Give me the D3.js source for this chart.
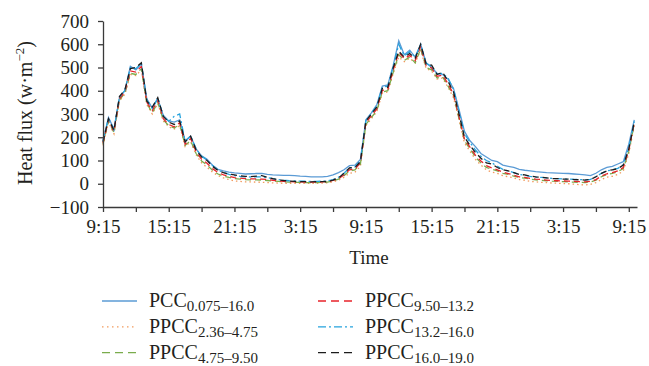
<!DOCTYPE html>
<html>
<head>
<meta charset="utf-8">
<script src="https://cdn.jsdelivr.net/npm/d3@7"></script>
<style>
  body { margin: 0; background: #fff; }
  svg { display: block; }
  text { font-family: "Liberation Serif", "DejaVu Serif", serif; fill: #231f20; }
</style>
</head>
<body>
<svg id="chart" width="649" height="366"></svg>
<script>
// half-hourly samples starting at 9:15
var stepHours = 0.5;

var xTickLabels = ["9:15", "15:15", "21:15", "3:15", "9:15", "15:15", "21:15", "3:15", "9:15"];
var yTicks = [-100, 0, 100, 200, 300, 400, 500, 600, 700];

var pcc = [185, 285, 235, 370, 400, 505, 490, 515, 365, 325,
  365, 295, 270, 265, 275, 185, 205, 150, 120, 105,
  80, 62, 55, 50, 47, 45, 42, 43, 44, 45,
  40, 38, 37, 36, 36, 35, 33, 32, 30, 30,
  30, 32, 38, 48, 60, 78, 80, 105, 275, 305,
  340, 420, 425, 510, 615, 555, 575, 545, 600, 520,
  500, 475, 470, 450, 410, 320, 225, 185, 160, 130,
  115, 100, 95, 80, 75, 70, 62, 58, 55, 52,
  50, 48, 47, 46, 45, 44, 42, 40, 38, 35,
  45, 60, 70, 75, 85, 95, 170, 275];

var ppcc236 = [165, 265, 215, 355, 385, 470, 465, 490, 340, 300,
  345, 270, 245, 235, 250, 160, 180, 125, 90, 70,
  50, 35, 25, 18, 12, 10, 8, 8, 7, 6,
  5, 4, 3, 2, 2, 2, 2, 2, 2, 2,
  3, 4, 8, 15, 28, 45, 50, 75, 250, 280,
  310, 390, 395, 475, 545, 525, 540, 520, 575, 495,
  485, 450, 455, 415, 370, 275, 175, 140, 105, 80,
  60, 50, 45, 35, 30, 25, 18, 15, 10, 8,
  6, 5, 3, 2, 1, 0, -2, -4, -5, -3,
  5, 18, 28, 32, 40, 55, 130, 250];

var ppcc475 = [170, 270, 220, 360, 390, 475, 470, 495, 345, 305,
  350, 275, 250, 240, 255, 165, 185, 130, 98, 80,
  58, 42, 33, 27, 22, 20, 18, 17, 17, 16,
  14, 12, 10, 8, 7, 6, 6, 5, 5, 5,
  6, 7, 12, 20, 35, 55, 60, 85, 255, 285,
  315, 395, 400, 480, 555, 530, 545, 520, 580, 500,
  490, 455, 460, 420, 380, 280, 185, 150, 115, 90,
  70, 62, 55, 45, 40, 33, 27, 24, 20, 17,
  15, 13, 11, 10, 9, 8, 7, 6, 5, 8,
  15, 30, 40, 45, 52, 65, 140, 255];

var ppcc950 = [175, 275, 225, 365, 395, 485, 480, 505, 350, 315,
  360, 280, 255, 245, 262, 170, 195, 138, 105, 88,
  65, 48, 38, 32, 26, 24, 22, 21, 21, 20,
  18, 15, 12, 10, 9, 8, 8, 7, 7, 7,
  8, 9, 14, 22, 38, 60, 63, 90, 262, 292,
  322, 402, 405, 490, 565, 538, 552, 530, 590, 508,
  498, 462, 468, 430, 385, 290, 192, 158, 122, 98,
  78, 68, 60, 50, 44, 37, 30, 27, 23, 20,
  18, 16, 14, 13, 12, 11, 10, 9, 8, 10,
  18, 33, 43, 48, 55, 70, 145, 262];

var ppcc132 = [185, 282, 232, 372, 402, 500, 495, 518, 360, 325,
  368, 292, 268, 290, 300, 182, 205, 150, 118, 102,
  78, 58, 48, 40, 35, 32, 30, 29, 30, 30,
  26, 22, 18, 15, 13, 12, 11, 11, 10, 10,
  11, 12, 18, 28, 45, 68, 72, 98, 272, 302,
  335, 415, 420, 505, 600, 550, 568, 545, 598, 518,
  505, 472, 475, 455, 405, 310, 215, 178, 145, 118,
  100, 90, 75, 62, 55, 48, 40, 36, 32, 29,
  27, 25, 23, 22, 21, 20, 19, 18, 17, 19,
  30, 45, 55, 60, 66, 82, 155, 268];

var ppcc160 = [180, 280, 230, 375, 405, 495, 500, 520, 355, 330,
  370, 290, 265, 255, 270, 180, 205, 145, 115, 100,
  75, 57, 48, 42, 38, 34, 32, 31, 33, 35,
  28, 22, 17, 14, 12, 10, 9, 9, 8, 9,
  9, 10, 16, 25, 45, 68, 70, 95, 270, 300,
  330, 410, 415, 500, 570, 545, 560, 540, 600, 515,
  510, 470, 480, 440, 395, 300, 200, 165, 135, 110,
  90, 85, 70, 60, 55, 48, 40, 38, 33, 30,
  28, 25, 22, 22, 20, 20, 18, 17, 16, 18,
  30, 45, 55, 60, 65, 80, 150, 265];

var seriesNames = ["PCC", "PPCC", "PPCC", "PPCC", "PPCC", "PPCC"];
var seriesSubs = ["0.075\u201316.0", "2.36\u20134.75", "4.75\u20139.50", "9.50\u201313.2", "13.2\u201316.0", "16.0\u201319.0"];
var seriesValues = [pcc, ppcc236, ppcc475, ppcc950, ppcc132, ppcc160];
var seriesColors = ["#5b9bd5", "#f29a5c", "#7aac4c", "#e8232a", "#26a3dd", "#1c1c1c"];
var seriesDash = [null, "1.5,3", "6,4", "6,4", "7,3,2,3", "6,4"];

var svg = d3.select("#chart");

var x = d3.scaleLinear().domain([0, 48.75]).range([103, 637]);
var y = d3.scaleLinear().domain([-100, 700]).range([207, 21]);

// series lines
var line = d3.line()
  .x(function (d, i) { return x(i * stepHours); })
  .y(function (d) { return y(d); });

svg.append("g").selectAll("path")
  .data(seriesValues)
  .enter().append("path")
  .attr("d", line)
  .attr("fill", "none")
  .attr("stroke", function (d, i) { return seriesColors[i]; })
  .attr("stroke-width", 1.3)
  .attr("stroke-dasharray", function (d, i) { return seriesDash[i]; });

// axes
svg.append("g")
  .attr("transform", "translate(103,0)")
  .call(d3.axisLeft(y).tickValues(yTicks).tickSize(5).tickSizeOuter(0).tickPadding(9));

var xTicks = d3.range(0, 49, 3);
svg.append("g")
  .attr("transform", "translate(0,207)")
  .call(d3.axisBottom(x).tickValues(xTicks).tickSize(5).tickSizeOuter(0).tickPadding(8)
    .tickFormat(function (d) { return d % 6 === 0 ? xTickLabels[d / 6] : ""; }));

svg.selectAll(".domain, .tick line").attr("stroke", "#3a3a3a").attr("stroke-width", 1.3);
svg.selectAll(".tick text").attr("font-size", 19).attr("font-family", "Liberation Serif").attr("fill", "#231f20");

// axis titles
svg.append("text")
  .attr("transform", "translate(32,113) rotate(-90)")
  .attr("text-anchor", "middle")
  .attr("font-size", 20)
  .html('Heat flux (w\u00b7m<tspan dy="-8" font-size="13">\u22122</tspan><tspan dy="8">)</tspan>');

svg.append("text")
  .attr("x", 369)
  .attr("y", 264)
  .attr("text-anchor", "middle")
  .attr("font-size", 19)
  .text("Time");

// legend
var legend = svg.append("g").selectAll("g")
  .data(seriesNames)
  .enter().append("g")
  .attr("transform", function (d, i) {
    var col = i < 3 ? 0 : 1, row = i % 3;
    return "translate(" + (col ? 318 : 102) + "," + (301 + row * 25.8) + ")";
  });

legend.append("line")
  .attr("x1", 0).attr("x2", 35).attr("y1", 0).attr("y2", 0)
  .attr("stroke", function (d, i) { return seriesColors[i]; })
  .attr("stroke-width", 1.3)
  .attr("stroke-dasharray", function (d, i) { return seriesDash[i] ? (i === 1 ? "1.5,3.5" : (i === 4 ? "8,3,2,3" : "8,5")) : null; });

legend.append("text")
  .attr("x", 47)
  .attr("y", 6)
  .attr("font-size", 20)
  .html(function (d, i) {
    return d + '<tspan dy="4" font-size="15">' + seriesSubs[i] + '</tspan>';
  });
</script>
</body>
</html>
